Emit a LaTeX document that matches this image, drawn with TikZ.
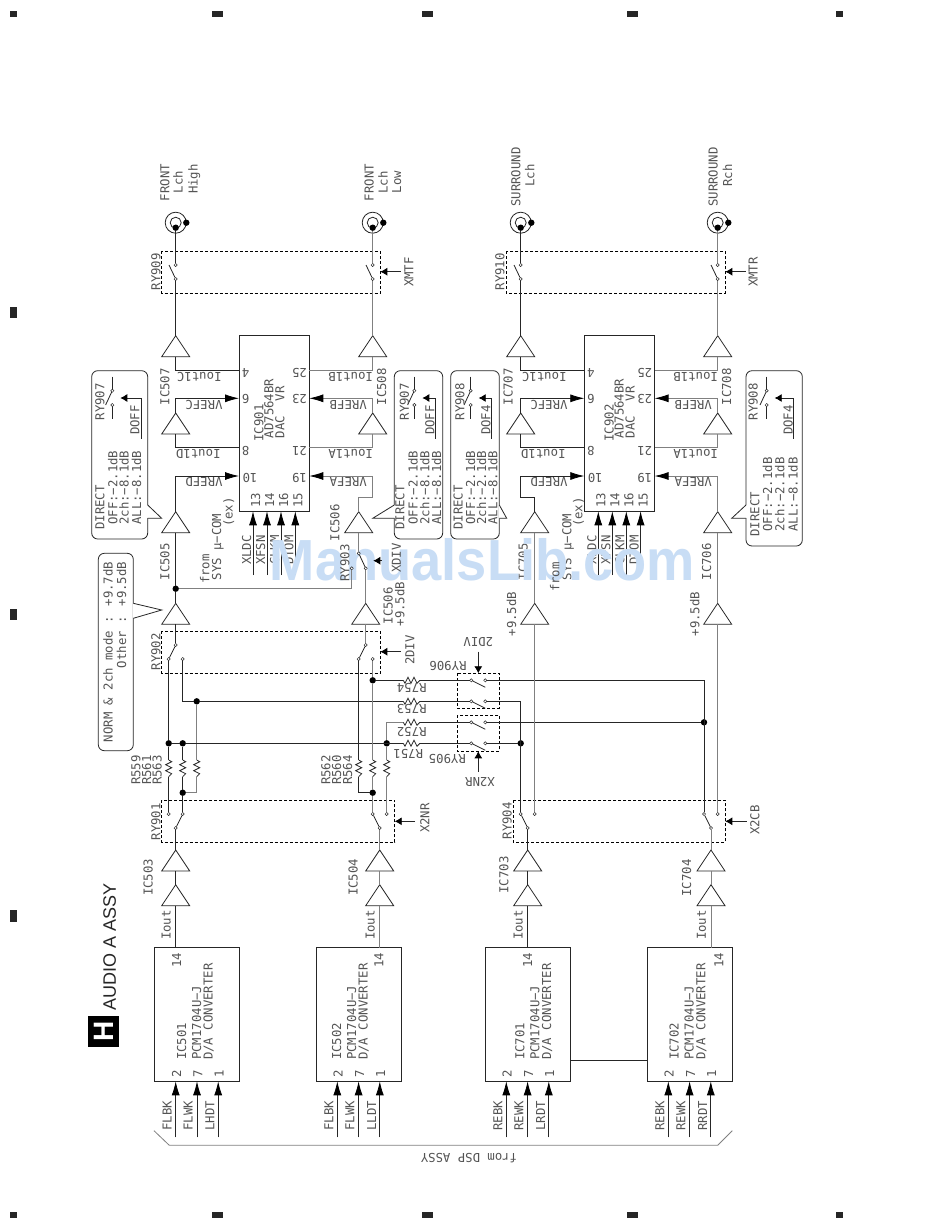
\documentclass[tikz,border=0pt]{standalone}
\usepackage{fontspec}
\setmainfont{DejaVu Sans Mono}
\newfontfamily\headfont{Liberation Sans}
\usetikzlibrary{arrows.meta}
\definecolor{inkd}{gray}{0.15}
\definecolor{inkg}{gray}{0.5}
\definecolor{inkt}{gray}{0.33}
\definecolor{wmark}{HTML}{C8DDF5}
\tikzset{
  wd/.style={draw=inkd,line width=.8pt},
  wg/.style={draw=inkg,line width=.8pt},
  txt/.style={text=inkt,font=\fontsize{12.3}{14}\selectfont,inner sep=0pt,text height=8.8pt,text depth=0pt},
  contact/.style={circle,draw=inkd,fill=white,inner sep=0pt,minimum size=3.2pt,line width=.5pt,outer sep=0pt},
  jdot/.style={circle,fill=black,inner sep=0pt,minimum size=6.4pt,outer sep=0pt},
  chip/.style={rectangle,draw=inkd,line width=.9pt,inner sep=0pt,outer sep=0pt,fill=white},
  relaybox/.style={draw=black,dash pattern=on 3pt off 2pt,line width=.8pt},
  ampst/.style={draw=inkd,line width=.8pt,fill=white},
  callst/.style={draw=inkd,line width=.8pt,rounded corners=6pt},
  arr/.style={-{Latex[length=14pt,width=8pt,color=black]}},
  arrs/.style={-{Latex[length=7pt,width=8pt,color=black]}},
}
\newcounter{tn}
\newcommand\labV[3]{\stepcounter{tn}\node[txt,rotate=90] (t\arabic{tn}) at (#1,#2) {#3};}
\newcommand\labW[3]{\stepcounter{tn}\node[txt,rotate=90,anchor=west] (t\arabic{tn}) at (#1,#2) {#3};}
\newcommand\labE[3]{\stepcounter{tn}\node[txt,rotate=90,anchor=east] (t\arabic{tn}) at (#1,#2) {#3};}
\newcommand\labU[3]{\stepcounter{tn}\node[txt,rotate=180] (t\arabic{tn}) at (#1,#2) {#3};}
% amplifier: name, x, apex y
\newcommand\ampl[3]{\coordinate (#1T) at (#2,#3);\coordinate (#1B) at (#2,#3+21);
  \draw[ampst] (#1T) -- (#2-14,#3+21) -- (#2+14,#3+21) -- cycle;}
\newcommand\ctc[3]{\node[contact] (#1) at (#2,#3) {};}
\newcommand\jdt[3]{\node[jdot] (#1) at (#2,#3) {};}
% output jack
\newcommand\jackn[2]{\node[circle,draw=inkd,line width=.8pt,minimum size=21pt,inner sep=0pt] (#1o) at (#2,222.7) {};
  \node[circle,draw=inkd,line width=.8pt,minimum size=11pt,inner sep=0pt] (#1i) at (#2,222.7) {};
  \jdt{#1d}{#2}{227.7}\jdt{#1g}{#2+10.6}{222.7}}
% output switch
\newcommand\swout[2]{\ctc{#1T}{#2}{265}\ctc{#1B}{#2}{279}\draw[wd] (#1B) -- +(-6.7,-14);}
% resistors
\newcommand\resV[3]{\coordinate (#1T) at (#2,#3);\coordinate (#1B) at (#2,#3+16.7);
  \draw[wd] (#1T) -- (#2+3,#3+1.7) -- (#2-3,#3+4.7) -- (#2+3,#3+7.7) -- (#2-3,#3+10.7) -- (#2+3,#3+13.7) -- (#1B);}
\newcommand\resH[3]{\coordinate (#1L) at (#2,#3);\coordinate (#1R) at (#2+16.7,#3);
  \draw[wd] (#1L) -- (#2+1.7,#3+3) -- (#2+4.7,#3-3) -- (#2+7.7,#3+3) -- (#2+10.7,#3-3) -- (#2+13.7,#3+3) -- (#1R);}
% DAC VR block: number, left x, left col, right col, text shift
\newcommand\dacblk[5]{%
  \node[chip,minimum width=70.3pt,minimum height=175.6pt,anchor=north west] (ic#1) at (#2,335.7) {};
  \foreach \pn/\yy in {4/370,6/398.3,8/447.3,10/476}{\coordinate (d#1p\pn) at (#2,\yy);}
  \foreach \pn/\yy in {25/370,23/398.3,21/447.3,19/476}{\coordinate (d#1p\pn) at (#2+70.3,\yy);}
  \ampl{a#1c}{#3}{335.7}\ampl{a#1d}{#3}{413}\ampl{a#1b}{#4}{335.7}\ampl{a#1a}{#4}{413}
  \draw[wd] (a#1cB) |- (d#1p4);
  \draw[wg] (a#1bB) |- (d#1p25);
  \draw[wd] (a#1dB) |- (d#1p8);
  \draw[wg] (a#1aB) |- (d#1p21);
  \draw[wd,arr] (a#1dT) |- (d#1p6);
  \draw[wg,arr] (a#1aT) |- (d#1p23);
  \labU{#3+23.6}{376.7}{Iout1C}\labU{#4-22}{376.7}{Iout1B}
  \labU{#3+22.6}{454}{Iout1D}\labU{#4-22}{454}{Iout1A}
  \labU{#3+28.3}{405}{VREFC}\labU{#4-24.4}{405}{VREFB}
  \labU{#3+28.3}{482.3}{VREFD}\labU{#4-24.4}{482.3}{VREFA}
  \labU{#2+6.7}{373.3}{4}\labU{#2+60.5}{373.3}{25}
  \labU{#2+6.7}{399}{6}\labU{#2+60.5}{399}{23}
  \labU{#2+6.7}{450.7}{8}\labU{#2+60.5}{450.7}{21}
  \labU{#2+11}{478.3}{10}\labU{#2+60.5}{478.3}{19}
  \labW{#2+#5}{441.7}{IC#1}\labW{#2+#5+10}{438.3}{AD7564BR}\labW{#2+#5+21}{438.3}{DAC\ \ VR}
  \foreach \dx/\pn/\sg in {14/13/XLDC,28/14/XFSN,42/16/CLKM,56.3/15/DTOM}{
    \coordinate (d#1s\pn) at (#2+\dx,575);
    \draw[wd,arr] (d#1s\pn) -- (ic#1.south -| d#1s\pn);
    \labV{#2+\dx+2.6}{500}{\pn}
    \labV{#2+\dx-6.4}{550}{\sg}
  }
}
% D/A converter: no., left x, first arrow x, sig1, sig2, sig3, out wire x, pin14 x, text x
\newcommand\convblk[9]{%
  \node[chip,minimum width=85pt,minimum height=133.6pt,anchor=north west] (ic#1) at (#2,947.7) {};
  \foreach \dx/\pl/\lx/\sg in {0/2/-8.4/#4,21.3/7/12.6/#5,42.5/1/34.3/#6}{
    \coordinate (c#1s\pl) at (#3+\dx,1137.3);
    \draw[wd,arr] (c#1s\pl) -- (ic#1.south -| c#1s\pl);
    \labV{#3+\dx+1}{1073.3}{\pl}
    \labV{#3+\lx}{1115.7}{\sg}
  }
  \labV{#8}{960}{14}
  \labV{#7-9.6}{925}{Iout}
  \labW{#9}{1060}{IC#1}\labW{#9+15}{1060}{PCM1704U−J}\labW{#9+26.6}{1060}{D/A CONVERTER}
}
% callout with relay: name, sw x, L x, relay label, label x, ctl label, ctl x
\newcommand\cbox[7]{%
  \coordinate (#1a) at (#2,376.7);\ctc{#1t}{#2}{390.7}\ctc{#1b}{#2}{405}\coordinate (#1e) at (#2,419);
  \draw[wd] (#1a) -- (#1t);\draw[wd] (#1b) -- (#1e);\draw[wd] (#1t) -- +(-6.7,14.3);
  \coordinate (#1tip) at (#2+8,398);\coordinate (#1l) at (#3,438.5);
  \draw[wd,arrs] (#1l) |- (#1tip);
  \labV{#5}{401.7}{#4}\labV{#7}{420}{#6}
}
\newcommand\ctext[9]{%
  \labW{#1}{#5}{DIRECT}\labW{#2}{#6}{OFF:−#7dB}\labW{#3}{#6}{2ch:−#8dB}\labW{#4}{#6}{ALL:−#9dB}
}
\begin{document}
\begin{tikzpicture}[x=1pt,y=-1pt]
\useasboundingbox (0,0) rectangle (950,1229);
\fill[white] (0,0) rectangle (950,1229);
% page registration marks
\foreach \xa/\xb in {10/17.3,212/223.3,421.5/433,627/638,836/843.3}{
  \fill[inkd] (\xa,11) rectangle (\xb,17.3);
  \fill[inkd] (\xa,1212) rectangle (\xb,1218.3);
}
\foreach \yc in {312.5,614.5,916}{\fill[inkd] (10,\yc-5.8) rectangle (17.3,\yc+5.8);}
% jacks
\jackn{ja}{175.7}\jackn{jb}{372.7}\jackn{jc}{520.7}\jackn{jd}{717.7}
\labV{165}{182.5}{FRONT}\labV{178.3}{182}{Lch}\labV{193.3}{179}{High}
\labV{369.3}{182.5}{FRONT}\labV{383.3}{182.5}{Lch}\labV{396.7}{182}{Low}
\labV{516}{177}{SURROUND}\labV{530}{175.6}{Lch}
\labV{713.3}{177}{SURROUND}\labV{727.7}{175.6}{Rch}
% output relays
\draw[relaybox] (161.7,251.3) rectangle (380.3,293.3);
\draw[relaybox] (506.3,251.3) rectangle (725.3,293.3);
\labV{156}{271.7}{RY909}\labV{500}{271.7}{RY910}
\swout{sa}{175.7}\swout{sb}{372.7}\swout{sc}{520.7}\swout{sd}{717.7}
\coordinate (xmtf) at (400.7,271.7);\coordinate (xmtfe) at (380.3,271.7);
\draw[wd,arrs] (xmtf) -- (xmtfe);\labV{409}{272}{XMTF}
\coordinate (xmtr) at (745.7,271.7);\coordinate (xmtre) at (725.3,271.7);
\draw[wd,arrs] (xmtr) -- (xmtre);\labV{753.3}{272}{XMTR}
% DAC blocks
\dacblk{901}{239}{175.7}{372.7}{20}
\dacblk{902}{584.3}{520.7}{717.7}{25}
\labV{165}{386.7}{IC507}\labV{381.7}{386.7}{IC508}
\labV{508.3}{386.7}{IC707}\labV{726.7}{386.7}{IC708}
\draw[wd] (jad) -- (saT);\draw[wd] (saB) -- (a901cT);
\draw[wg] (jbd) -- (sbT);\draw[wg] (sbB) -- (a901bT);
\draw[wd] (jcd) -- (scT);\draw[wd] (scB) -- (a902cT);
\draw[wg] (jdd) -- (sdT);\draw[wg] (sdB) -- (a902bT);
\labV{205}{569}{from}\labV{216.7}{547}{SYS µ−COM}\labV{228.3}{512}{(ex)}
\labV{567}{547}{SYS µ−COM}\labV{578}{512}{(ex)}
% callouts
\draw[callst] (91.7,370.7) rectangle (147.7,539);
\draw[callst] (394.3,370.7) rectangle (442.7,539);
\draw[callst] (450.7,370.7) rectangle (499.3,539);
\draw[callst] (746,370.7) rectangle (802.3,546);
\draw[callst] (98.3,553.3) rectangle (133.3,750.7);
\foreach \xe/\xt/\yu/\yv/\yw in {147.7/161.7/505/518.3/518.3,394.3/372.7/505/518.3/518.3,499.3/506.7/505/518.3/518.3,746/731.7/505/518.3/518.3,133.3/161.7/603.3/610/618.3}{
  \fill[white] (\xe,\yu) -- (\xt,\yv) -- (\xe,\yw) -- cycle;
  \draw[white,line width=1.2pt] (\xe,\yu) -- (\xe,\yw);
  \draw[wd] (\xe,\yu) -- (\xt,\yv) -- (\xe,\yw);
}
\cbox{ca}{112.3}{141}{RY907}{100}{DOFF}{135}
\cbox{cb}{414.3}{435.3}{RY907}{404.5}{DOFF}{430}
\cbox{cc}{470.7}{491.7}{RY908}{460}{DOF4}{486}
\cbox{cd}{766.7}{793.3}{RY908}{753.3}{DOF4}{788.3}
\ctext{100}{113}{124.3}{136.7}{530}{525}{2.1}{8.1}{8.1}
\ctext{400}{413.3}{425}{436.7}{530}{525}{2.1}{8.1}{8.1}
\ctext{458.3}{470.7}{481.7}{493}{530}{525}{2.1}{2.1}{8.1}
\ctext{755}{767.7}{780}{793.3}{536.7}{531.7}{2.1}{2.1}{8.1}
\labE{108.3}{561.7}{NORM \& 2ch mode : +9.7dB}
\labE{121.7}{561.7}{Other : +9.5dB}
% mid amps
\ampl{a505}{175.7}{511.7}\ampl{a505b}{175.7}{603.3}
\ampl{a506}{358.7}{511.7}\ampl{a506b}{365.7}{603.3}
\ampl{a705}{534.7}{511.7}\ampl{a705b}{534.7}{603.3}
\ampl{a706}{717.7}{511.7}\ampl{a706b}{717.7}{603.3}
\labV{165}{561.7}{IC505}\labV{335}{522.7}{IC506}\labV{388.3}{605.7}{IC506}\labV{400}{604}{+9.5dB}
\labV{523.3}{561.7}{IC705}\labV{511.7}{614}{+9.5dB}\labV{706.7}{561.7}{IC706}\labV{695}{614}{+9.5dB}
\draw[wd,arr] (a505T) |- (d901p10);
\draw[wg,arr] (a506T) -- ++(0,-14.4) -- ++(14,0) |- (d901p19);
\draw[wd,arr] (a705T) -- ++(0,-14.4) -- ++(-14,0) |- (d902p10);
\draw[wg,arr] (a706T) |- (d902p19);
\jdt{j505}{175.7}{588.7}
\draw[wd] (a505B) -- (j505) -- (a505bT);
\draw[wg] (a705B) -- (a705bT);
\draw[wg] (a706B) -- (a706bT);
% RY902
\draw[relaybox] (161.7,631.3) rectangle (380.3,673.3);
\labV{156}{651.7}{RY902}
\ctc{pat}{175.7}{645}\ctc{pa1}{168.7}{659}\ctc{pa2}{182.7}{659}
\ctc{pbt}{365.7}{645}\ctc{pb1}{358.7}{659}\ctc{pb2}{372.7}{659}
\draw[wd] (pat) -- (pa1);\draw[wd] (pbt) -- (pb1);
\draw[wd] (a505bB) -- (pat);\draw[wg] (a506bB) -- (pbt);
\coordinate (div2) at (400.7,651.7);\coordinate (div2e) at (380.3,651.7);
\draw[wd,arrs] (div2) -- (div2e);\labV{410}{650}{2DIV}
% RY901
\draw[relaybox] (161.7,800.3) rectangle (394.7,842.3);
\labV{156}{821.7}{RY901}
\ctc{qa1}{168.7}{814}\ctc{qa2}{182.7}{814}\ctc{qac}{175.7}{828}
\ctc{qb1}{372.7}{814}\ctc{qb2}{386.7}{814}\ctc{qbc}{379.7}{828}
\draw[wd] (qac) -- (qa2);\draw[wd] (qbc) -- (qb1);
\coordinate (x2nr) at (415,821.3);\coordinate (x2nre) at (394.7,821.3);
\draw[wd,arrs] (x2nr) -- (x2nre);\labV{425}{818}{X2NR}
% RY904
\draw[relaybox] (513.3,800.3) rectangle (725.3,842.3);
\labV{507.3}{820.7}{RY904}
\ctc{uc1}{520.7}{814}\ctc{uc2}{534.7}{814}\ctc{ucc}{527.7}{828}
\ctc{ud1}{704}{814}\ctc{ud2}{717.7}{814}\ctc{udc}{711}{828}
\draw[wd] (ucc) -- (uc1);\draw[wd] (udc) -- (ud1);
\coordinate (x2cb) at (746.7,821.3);\coordinate (x2cbe) at (725.3,821.3);
\draw[wd,arrs] (x2cb) -- (x2cbe);\labV{755}{820}{X2CB}
% RY905, RY906
\draw[relaybox] (457.3,673.3) rectangle (499.3,708.3);
\draw[relaybox] (457.3,715.3) rectangle (499.3,751.3);
\labU{448}{665.7}{RY906}\labU{447.3}{759}{RY905}
\ctc{v1l}{471.3}{680.3}\ctc{v1r}{485.3}{680.3}\ctc{v2l}{471.3}{701.3}\ctc{v2r}{485.3}{701.3}
\ctc{v3l}{471.3}{722.3}\ctc{v3r}{485.3}{722.3}\ctc{v4l}{471.3}{743.3}\ctc{v4r}{485.3}{743.3}
\draw[wd] (v1l) -- +(14,7);\draw[wd] (v2l) -- +(14,7);\draw[wd] (v3l) -- +(14,7);\draw[wd] (v4l) -- +(14,7);
\coordinate (d906) at (478.3,651.7);\coordinate (d906e) at (478.3,673.3);
\draw[wd,arrs] (d906) -- (d906e);\labU{478.3}{641.7}{2DIV}
\coordinate (n905) at (478.3,771.7);\coordinate (n905e) at (478.3,751.3);
\draw[wd,arrs] (n905) -- (n905e);\labU{480}{782.3}{X2NR}
% resistors
\resV{r559}{168.7}{760}\resV{r561}{182.7}{760}\resV{r563}{196.7}{760}
\resV{r562}{358.7}{760}\resV{r560}{372.7}{760}\resV{r564}{386.7}{760}
\resH{r754}{403.3}{680.3}\resH{r753}{403.3}{701.3}\resH{r752}{403.3}{722.3}\resH{r751}{403.3}{743.3}
\labV{136}{770}{R559}\labV{146.7}{770}{R561}\labV{157.3}{770}{R563}
\labV{326}{770}{R562}\labV{336.7}{770}{R560}\labV{347.7}{770}{R564}
\labU{411.7}{688.3}{R754}\labU{411.7}{709.3}{R753}\labU{411.7}{732.3}{R752}\labU{408.3}{754}{R751}
% junctions
\jdt{j1}{168.7}{743.3}\jdt{j2}{182.7}{743.3}\jdt{j3}{196.7}{701.3}\jdt{j4}{182.7}{792.7}
\jdt{j5}{372.7}{792.7}\jdt{j6}{372.7}{680.3}\jdt{j7}{386.7}{743.3}
\jdt{j8}{704}{722.3}\jdt{j9}{520.7}{743.3}
% wiring group A
\draw[wd] (pa1) -- (j1) -- (r559T);\draw[wd] (r559B) -- (qa1);
\draw[wd] (pa2) |- (j3);\draw[wd] (j3) -- (r753L);\draw[wd] (r753R) -- (v2l);
\draw[wg] (j3) -- (r563T);\draw[wg] (r563B) |- (j4);
\draw[wd] (j1) -- (j2);\draw[wd] (j2) -- (r751L);\draw[wd] (r751R) -- (v4l);
\draw[wd] (j2) -- (r561T);\draw[wd] (r561B) -- (j4);\draw[wd] (j4) -- (qa2);
% wiring group B
\draw[wd] (pb1) -- (r562T);\draw[wd] (r562B) |- (j5);
\draw[wg] (pb2) -- (j6);\draw[wg] (j6) -- (r560T);\draw[wg] (r560B) -- (j5);\draw[wg] (j5) -- (qb1);
\draw[wd] (j6) -- (r754L);\draw[wd] (r754R) -- (v1l);
\draw[wg] (qb2) -- (r564B);\draw[wg] (r564T) -- (j7);
\draw[wg] (j7) |- (r752L);\draw[wd] (r752R) -- (v3l);
% wiring to RY904
\draw[wd] (v1r) -| (ud1);\draw[wd] (v3r) -- (j8);
\draw[wd] (v2r) -| (uc1);\draw[wd] (v4r) -- (j9);
\draw[wg] (uc2) -- (a705bB);\draw[wg] (ud2) -- (a706bB);
% input amps
\ampl{a503}{175.7}{850}\ampl{a503b}{175.7}{884.7}
\ampl{a504}{379.7}{850}\ampl{a504b}{379.7}{884.7}
\ampl{a703}{527.7}{850}\ampl{a703b}{527.7}{884.7}
\ampl{a704}{711}{850}\ampl{a704b}{711}{884.7}
\labV{148.3}{877.3}{IC503}\labV{353.3}{877.3}{IC504}\labV{504}{875}{IC703}\labV{686.7}{878}{IC704}
\draw[wd] (qac) -- (a503T);\draw[wd] (a503B) -- (a503bT);
\draw[wg] (qbc) -- (a504T);\draw[wg] (a504B) -- (a504bT);
\draw[wd] (ucc) -- (a703T);\draw[wd] (a703B) -- (a703bT);
\draw[wg] (udc) -- (a704T);\draw[wg] (a704B) -- (a704bT);
% converters
\convblk{501}{154.3}{175.7}{FLBK}{FLWK}{LHDT}{175.7}{176.7}{181.7}
\convblk{502}{316.3}{337.3}{FLBK}{FLWK}{LLDT}{379.7}{379}{336.7}
\convblk{701}{485.3}{506.3}{REBK}{REWK}{LRDT}{527.7}{527.7}{520}
\convblk{702}{647.7}{668.3}{REBK}{REWK}{RRDT}{711}{719}{674.3}
\draw[wd] (a503bB) -- (ic501.north -| a503bB);
\draw[wg] (a504bB) -- (ic502.north -| a504bB);
\draw[wd] (a703bB) -- (ic701.north -| a703bB);
\draw[wg] (a704bB) -- (ic702.north -| a704bB);
\draw[wd] (ic701.east |- 0,1060.3) -- (ic702.west |- 0,1060.3);
% bracket
\draw[wg] (154,1130.7) -- (169.3,1145.3) -- (717.7,1145.3) -- (732.3,1130.7);
\labU{469}{1157.7}{from DSP ASSY}
% title
\node[fill=black,text=white,inner sep=0pt,minimum size=31pt,rotate=90,font=\headfont\bfseries\fontsize{28}{30}\selectfont] (hbadge) at (103.7,1031.7) {H};
\node[inner sep=0pt,anchor=west,rotate=90,text=inkd,text height=12.9pt,text depth=0pt,font=\headfont\fontsize{18}{20}\selectfont] (title) at (109.4,1011) {AUDIO A ASSY};
% watermark
\node[inner sep=0pt,anchor=base,xscale=.936,text=wmark,font=\headfont\bfseries\fontsize{58}{60}\selectfont] (wmk) at (482.5,580) {ManualsLib.com};
% RY903 and one label sit over the watermark
\labV{555}{577}{from}
\ctc{r3t}{358.7}{553.3}\ctc{r3r}{365.7}{568.3}\ctc{r3l}{351.7}{568.3}
\draw[wg] (a506B) -- (r3t);\draw[wd] (r3t) -- (r3r);\draw[wg] (r3r) -- (a506bT);
\draw[wg] (j505) -| (r3l);
\labV{345}{563}{RY903}\labV{396.5}{558}{XDIV}
\coordinate (xdiv) at (381.7,560.7);\coordinate (xdive) at (373.3,560.7);
\draw[wd,arrs] (xdiv) -- (xdive);
\end{tikzpicture}
\end{document}
